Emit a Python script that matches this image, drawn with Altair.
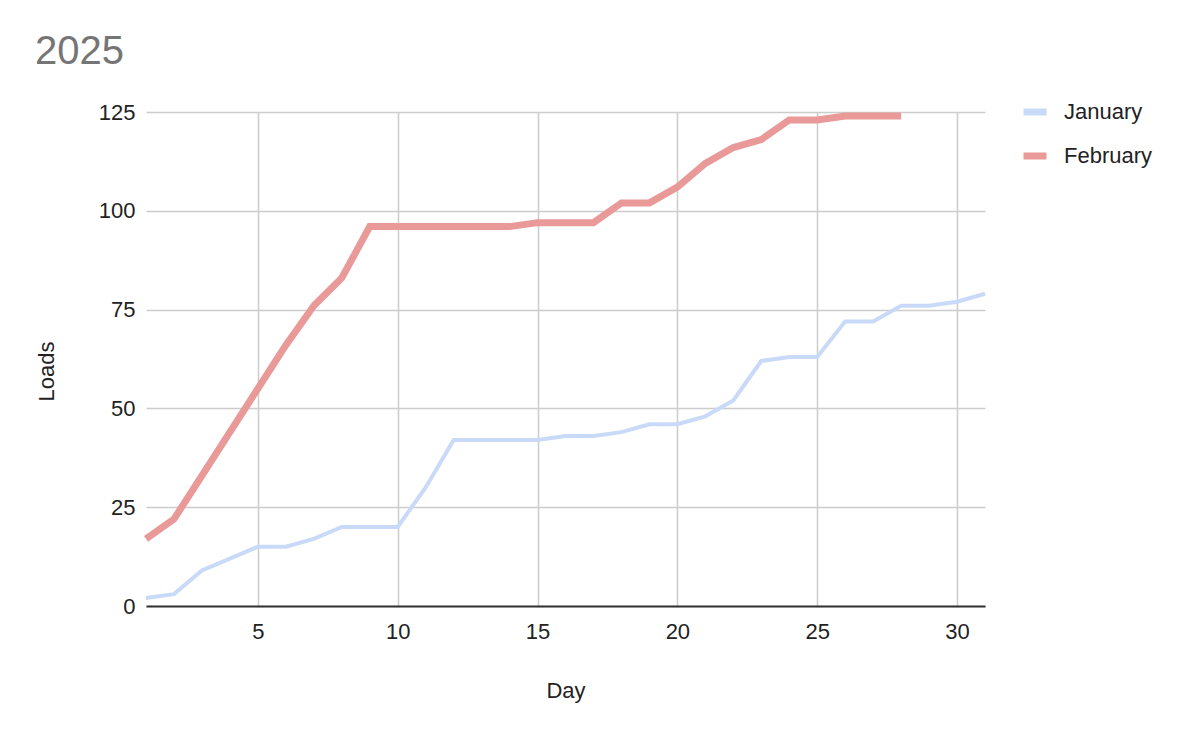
import altair as alt
import pandas as pd

days = list(range(1, 32))
january = [2, 3, 9, 12, 15, 15, 17, 20, 20, 20, 30, 42, 42, 42, 42, 43, 43, 44, 46, 46,
           48, 52, 62, 63, 63, 72, 72, 76, 76, 77, 79]
february = [17, 22, 33, 44, 55, 66, 76, 83, 96, 96, 96, 96, 96, 96, 97, 97, 97, 102, 102, 106,
            112, 116, 118, 123, 123, 124, 124, 124]
series = ["January", "February"]
colors = ["#c9daf8", "#ea9999"]
widths = [4, 7]
x_ticks = [5, 10, 15, 20, 25, 30]
y_ticks = [0, 25, 50, 75, 100, 125]

rows = []
for d, v in zip(days, january):
    rows.append({"Day": d, "Loads": v, "Month": "January"})
for d, v in zip(days, february):
    rows.append({"Day": d, "Loads": v, "Month": "February"})
df = pd.DataFrame(rows)

FONT = "Liberation Sans"
FS = 22

x_enc = alt.X("Day:Q",
              scale=alt.Scale(domain=[1, 31], nice=False, zero=False),
              axis=alt.Axis(values=x_ticks, title="Day", ticks=False, labelPadding=15,
                            domainColor="#333333", domainWidth=2,
                            gridColor="#cccccc", gridWidth=1.5,
                            titleY=84, titleBaseline="middle"))
y_enc = alt.Y("Loads:Q",
              scale=alt.Scale(domain=[0, 125], nice=False),
              axis=alt.Axis(values=y_ticks, title="Loads", ticks=False, labelPadding=11,
                            domain=False, gridColor="#cccccc", gridWidth=1.5,
                            titleX=-100, titleY=259, titleAngle=-90,
                            titleAlign="center", titleBaseline="middle"))
color_enc = alt.Color("Month:N", sort=series,
                      scale=alt.Scale(domain=series, range=colors),
                      legend=alt.Legend(title=None, orient="none", legendX=874, legendY=-15,
                                        symbolType="M-1,0L1,0", symbolStrokeWidth=7,
                                        symbolSize=529, labelOffset=14, rowPadding=15,
                                        labelFontSize=FS, labelFont=FONT,
                                        labelColor="#222222"))

base = alt.Chart(df).encode(x=x_enc, y=y_enc, color=color_enc, order=alt.Order("Day:Q"))

jan_line = base.transform_filter(alt.datum.Month == series[0]).mark_line(
    strokeWidth=widths[0], strokeCap="butt", strokeJoin="miter")
feb_line = base.transform_filter(alt.datum.Month == series[1]).mark_line(
    strokeWidth=widths[1], strokeCap="butt", strokeJoin="miter")

chart = alt.layer(jan_line, feb_line).properties(
    width=839,
    height=494,
    title=alt.TitleParams("2025", anchor="start", frame="group", dx=-111, dy=-21,
                          fontSize=40, font=FONT, fontWeight="normal", color="#757575"),
    autosize=alt.AutoSizeParams(type="none"),
    padding={"left": 138, "top": 104, "right": 197, "bottom": 122},
).configure_axis(
    labelFont=FONT, labelFontSize=FS, labelColor="#222222",
    titleFont=FONT, titleFontSize=FS, titleFontWeight="normal", titleColor="#222222",
).configure_view(stroke=None)

chart.save("out.html", embed_options={"renderer": "svg", "actions": False})
